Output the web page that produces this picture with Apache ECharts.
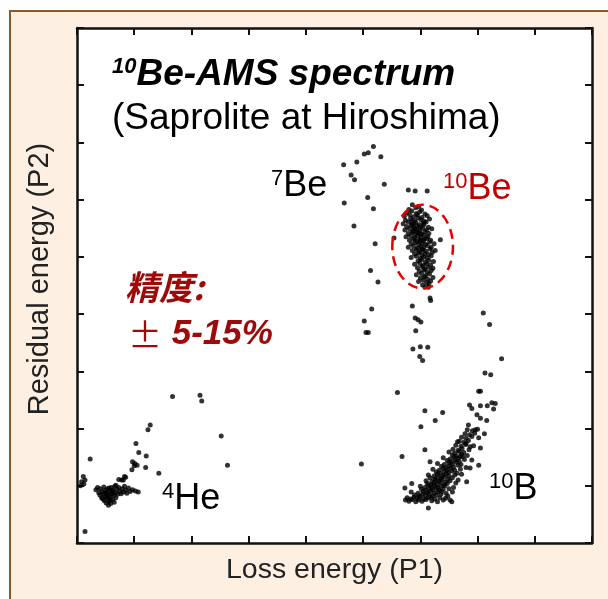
<!DOCTYPE html>
<html>
<head>
<meta charset="utf-8">
<script src="https://cdn.jsdelivr.net/npm/echarts@6/dist/echarts.min.js"></script>
<style>
html, body { margin: 0; padding: 0; background: #fff; }
#chart { width: 608px; height: 599px; }
</style>
</head>
<body>
<div id="chart"></div>
<script>
// axis range (no tick labels in the picture, only ticks)
const axisMin = 0
const axisMax = 9
const tickStep = 1

// 4He group (lower left)
const he4Points = [
  [0.33, 0.93], [0.36, 0.97], [0.38, 0.88], [0.40, 0.84], [0.41, 0.95], [0.43, 0.79], [0.44, 0.90],
  [0.46, 0.86], [0.47, 0.98], [0.48, 0.74], [0.49, 0.82], [0.50, 0.92], [0.51, 0.70], [0.52, 0.87],
  [0.53, 0.78], [0.54, 0.95], [0.55, 0.66], [0.55, 0.83], [0.56, 0.73], [0.57, 0.90], [0.58, 0.80],
  [0.59, 0.69], [0.60, 0.97], [0.60, 0.86], [0.62, 0.76], [0.63, 0.92], [0.64, 0.83], [0.65, 0.71],
  [0.66, 0.99], [0.67, 0.88], [0.68, 0.79], [0.70, 0.94], [0.71, 0.85], [0.45, 0.77], [0.52, 0.81],
  [0.58, 0.75], [0.61, 0.91], [0.50, 0.88], [0.56, 0.96], [0.63, 0.87],
  [0.73, 0.97], [0.75, 0.90], [0.77, 0.86], [0.79, 0.95], [0.81, 0.89], [0.83, 0.99], [0.85, 0.92],
  [0.87, 0.87], [0.90, 0.96], [0.93, 0.90], [0.97, 0.93], [1.02, 0.91], [1.07, 0.89],
  [0.68, 1.01], [0.81, 1.10], [0.85, 1.15], [0.73, 1.11], [0.78, 1.10], [0.83, 1.16],
  [0.96, 1.28], [1.00, 1.35], [1.05, 1.36], [1.01, 1.39], [0.97, 1.42], [1.20, 1.32],
  [1.08, 1.58], [1.21, 1.52], [1.03, 1.74], [1.24, 1.98], [1.28, 2.06],
  [0.11, 1.16], [0.14, 1.10], [0.08, 1.07], [0.12, 1.03], [0.06, 1.00], [0.23, 1.47], [0.14, 0.20]
]

// 7Be arc and the stream under it
const be7Points = [
  [5.18, 6.93], [5.02, 6.80], [5.09, 6.82], [5.31, 6.75], [4.66, 6.61], [4.89, 6.66],
  [4.79, 6.43], [4.85, 6.35], [5.37, 6.27], [4.67, 5.94], [5.08, 6.04], [5.18, 5.84],
  [4.84, 5.54], [5.21, 5.23], [5.13, 4.76], [5.26, 4.56], [5.15, 4.09], [5.02, 3.88],
  [5.05, 3.68], [5.09, 3.68]
]

// 10Be cluster (inside the dashed ellipse) and its tails
const be10Points = [
  [5.86, 5.91], [5.97, 5.88],
  [5.80, 5.83], [5.92, 5.86], [6.02, 5.82],
  [5.76, 5.77], [5.85, 5.80], [5.93, 5.76], [5.99, 5.79], [6.08, 5.75],
  [5.72, 5.71], [5.81, 5.74], [5.88, 5.70], [5.95, 5.73], [6.03, 5.69], [6.12, 5.72],
  [5.74, 5.64], [5.83, 5.67], [5.90, 5.63], [5.96, 5.68], [6.01, 5.65], [6.07, 5.62], [6.16, 5.66],
  [5.70, 5.58], [5.79, 5.61], [5.86, 5.57], [5.92, 5.60], [5.98, 5.56], [6.05, 5.59], [6.10, 5.61],
  [5.76, 5.53], [5.84, 5.55], [5.89, 5.51], [5.95, 5.54], [6.00, 5.52], [6.06, 5.56], [6.14, 5.52],
  [5.73, 5.47], [5.81, 5.49], [5.87, 5.45], [5.93, 5.48], [5.99, 5.46], [6.04, 5.50], [6.11, 5.47], [6.20, 5.49],
  [5.79, 5.41], [5.86, 5.43], [5.91, 5.39], [5.97, 5.42], [6.02, 5.40], [6.08, 5.44], [6.15, 5.41],
  [5.75, 5.35], [5.83, 5.37], [5.90, 5.33], [5.95, 5.36], [6.01, 5.34], [6.07, 5.38], [6.13, 5.35],
  [5.81, 5.29], [5.88, 5.31], [5.94, 5.27], [5.99, 5.30], [6.05, 5.28], [6.11, 5.32], [6.18, 5.29],
  [5.84, 5.23], [5.91, 5.25], [5.97, 5.21], [6.03, 5.24], [6.09, 5.22], [6.16, 5.26], [6.24, 5.23],
  [5.79, 5.17], [5.88, 5.19], [5.95, 5.15], [6.01, 5.18], [6.06, 5.16], [6.12, 5.20], [6.19, 5.17],
  [5.86, 5.11], [5.93, 5.13], [5.99, 5.09], [6.04, 5.12], [6.10, 5.10], [6.17, 5.14], [6.26, 5.11],
  [5.90, 5.05], [5.97, 5.07], [6.03, 5.03], [6.08, 5.06], [6.14, 5.04], [6.21, 5.08],
  [5.84, 4.99], [5.93, 5.01], [6.00, 4.97], [6.06, 5.00], [6.12, 4.98], [6.19, 5.02],
  [5.96, 4.93], [6.02, 4.95], [6.09, 4.91], [6.15, 4.94], [6.23, 4.92],
  [5.90, 4.87], [5.99, 4.89], [6.05, 4.85], [6.11, 4.88], [6.18, 4.86],
  [5.95, 4.81], [6.03, 4.83], [6.08, 4.79], [6.14, 4.82], [6.22, 4.80],
  [5.98, 4.75], [6.06, 4.77], [6.12, 4.73], [6.19, 4.76],
  [5.93, 4.69], [6.02, 4.71], [6.09, 4.67], [6.16, 4.70],
  [6.00, 4.63], [6.07, 4.65], [6.13, 4.61], [6.22, 4.64],
  [5.97, 4.57], [6.05, 4.59], [6.11, 4.55], [6.18, 4.58],
  [6.04, 4.51], [6.15, 4.53], [6.08, 4.47],
  [5.88, 5.58], [5.94, 5.44], [5.99, 5.27], [6.03, 5.14], [5.90, 5.50], [6.07, 5.31], [5.85, 5.62], [6.00, 5.40],
  [5.54, 5.33], [6.35, 5.30], [5.79, 6.17], [5.91, 6.15], [6.12, 6.15],
  [6.14, 4.47], [6.17, 4.28], [6.18, 4.24], [5.86, 4.14], [5.91, 3.93], [5.96, 3.90],
  [6.01, 3.86], [5.92, 3.71], [5.87, 3.39], [6.00, 3.43], [6.13, 3.42], [5.99, 3.26], [6.04, 3.19]
]

// 10B band (lower right) and its upper arm
const b10Points = [
  [5.74, 0.75], [5.80, 0.73], [5.86, 0.76], [5.92, 0.72], [5.97, 0.75], [6.03, 0.73], [6.10, 0.76], [6.20, 0.74], [6.30, 0.72], [6.40, 0.75],
  [5.77, 0.79], [5.83, 0.77], [5.89, 0.80], [5.95, 0.78], [6.00, 0.81], [6.06, 0.77], [6.13, 0.79], [6.18, 0.80], [6.25, 0.77], [6.34, 0.79], [6.44, 0.78],
  [5.90, 0.84], [5.98, 0.82], [6.04, 0.85], [6.09, 0.83], [6.15, 0.86], [6.21, 0.82], [6.28, 0.84], [6.36, 0.85], [6.48, 0.82],
  [5.84, 0.89], [5.96, 0.87], [6.05, 0.90], [6.12, 0.88], [6.18, 0.91], [6.24, 0.87], [6.30, 0.89], [6.37, 0.90], [6.45, 0.87], [6.56, 0.89],
  [6.02, 0.94], [6.10, 0.92], [6.16, 0.95], [6.22, 0.93], [6.27, 0.96], [6.33, 0.92], [6.40, 0.94], [6.50, 0.95],
  [6.00, 0.99], [6.08, 0.97], [6.14, 1.00], [6.20, 0.98], [6.25, 1.01], [6.31, 0.97], [6.36, 0.99], [6.43, 1.00], [6.58, 0.97],
  [6.12, 1.04], [6.18, 1.02], [6.24, 1.05], [6.29, 1.03], [6.35, 1.06], [6.41, 1.02], [6.47, 1.04], [6.62, 1.05],
  [6.10, 1.09], [6.20, 1.07], [6.27, 1.10], [6.33, 1.08], [6.38, 1.11], [6.44, 1.07], [6.52, 1.09], [6.66, 1.10],
  [6.17, 1.14], [6.25, 1.12], [6.31, 1.15], [6.36, 1.13], [6.42, 1.16], [6.48, 1.12], [6.56, 1.14],
  [6.14, 1.19], [6.24, 1.17], [6.30, 1.20], [6.39, 1.18], [6.45, 1.21], [6.50, 1.17], [6.60, 1.19], [6.72, 1.20],
  [6.28, 1.24], [6.35, 1.22], [6.42, 1.25], [6.49, 1.23], [6.55, 1.26], [6.64, 1.22],
  [6.22, 1.29], [6.33, 1.27], [6.40, 1.30], [6.47, 1.28], [6.53, 1.31], [6.60, 1.27], [6.70, 1.29],
  [6.37, 1.34], [6.45, 1.32], [6.51, 1.35], [6.58, 1.33], [6.66, 1.36], [6.80, 1.32],
  [6.30, 1.39], [6.42, 1.37], [6.50, 1.40], [6.56, 1.38], [6.63, 1.41], [6.71, 1.37],
  [6.47, 1.44], [6.54, 1.42], [6.61, 1.45], [6.68, 1.43], [6.77, 1.46],
  [6.40, 1.49], [6.52, 1.47], [6.59, 1.50], [6.66, 1.48], [6.74, 1.51],
  [6.56, 1.54], [6.63, 1.52], [6.72, 1.55], [6.82, 1.53],
  [6.50, 1.59], [6.60, 1.57], [6.68, 1.60], [6.76, 1.58],
  [6.57, 1.64], [6.66, 1.62], [6.73, 1.65], [6.85, 1.63],
  [6.62, 1.71], [6.71, 1.69], [6.79, 1.72], [6.93, 1.70],
  [6.68, 1.78], [6.76, 1.76], [6.84, 1.79],
  [6.72, 1.85], [6.80, 1.83], [6.90, 1.86], [7.02, 1.84],
  [6.78, 1.91], [6.86, 1.89], [6.95, 1.92],
  [6.82, 1.98], [6.91, 1.96], [7.00, 1.99],
  [6.84, 2.06], [6.96, 1.98], [7.12, 1.91], [6.99, 2.24], [7.05, 2.18], [7.16, 2.14],
  [6.86, 2.41], [6.90, 2.35], [7.05, 2.40], [7.17, 2.40], [7.25, 2.45], [7.31, 2.44], [7.28, 2.34],
  [6.65, 1.77], [6.80, 1.74], [6.87, 1.68], [7.05, 1.66], [6.70, 1.51], [6.90, 1.45],
  [6.87, 1.31], [7.02, 1.36], [6.81, 1.07], [6.52, 0.75], [6.55, 0.72], [6.14, 0.61],
  [5.73, 0.96], [5.85, 1.04], [6.08, 1.63], [6.17, 1.42], [6.08, 2.31], [6.39, 2.28],
  [6.26, 2.14], [6.01, 2.03], [7.05, 2.65], [7.02, 2.65], [7.10, 4.02], [7.21, 3.82],
  [7.42, 3.22], [7.13, 2.97], [7.23, 2.94]
]

// scattered events
const strayPoints = [
  [1.67, 2.56], [2.15, 2.58], [2.18, 2.48], [2.52, 1.87], [2.63, 1.36], [1.43, 1.22],
  [4.97, 1.38], [5.68, 1.51], [5.60, 2.63]
]

// dashed ellipse round the 10Be peak (data units)
const ellipseCenter = [6.04, 5.18]
const ellipseRadius = [0.53, 0.73]

const sansFont = 'Liberation Sans, Arial, sans-serif'
const cjkFont = 'Noto Sans CJK SC, sans-serif'
const dotColor = '#000'
const frameColor = '#111'

function dots(name, data) {
  return {
    name: name,
    type: 'scatter',
    data: data,
    symbolSize: 5,
    itemStyle: { color: dotColor },
    silent: true
  }
}

function frameAxis(pos, withName) {
  const axis = {
    type: 'value',
    position: pos,
    min: axisMin,
    max: axisMax,
    interval: tickStep,
    splitLine: { show: false },
    axisLabel: { show: false },
    axisLine: { show: true, onZero: false, lineStyle: { color: frameColor, width: 2.5 } },
    axisTick: { show: true, inside: true, length: 7, lineStyle: { color: frameColor, width: 2 } }
  }
  if (withName) {
    axis.name = 'Loss energy (P1)'
    axis.nameLocation = 'middle'
    axis.nameGap = 13
    axis.nameTextStyle = { fontSize: 28.5, color: '#222', fontFamily: sansFont }
  }
  return axis
}

// superscript + main text as one rich text
function isotope(x, y, sup, main, color) {
  return {
    type: 'text',
    x: x,
    y: y,
    z: 100,
    style: {
      text: '{s|' + sup + '}{m|' + main + '}',
      align: 'left',
      verticalAlign: 'top',
      rich: {
        s: { fontSize: 22, fontFamily: sansFont, fill: color, verticalAlign: 'top' },
        m: { fontSize: 36, fontFamily: sansFont, fill: color, verticalAlign: 'bottom' }
      }
    }
  }
}

const chart = echarts.init(document.getElementById('chart'))

const option = {
  animation: false,
  backgroundColor: '#fff',
  grid: {
    left: 77,
    top: 28,
    width: 515,
    height: 515,
    show: true,
    backgroundColor: '#fff',
    borderWidth: 0
  },
  xAxis: [frameAxis('bottom', true), frameAxis('top', false)],
  yAxis: [frameAxis('left', false), frameAxis('right', false)],
  series: [
    dots('4He', he4Points),
    dots('7Be', be7Points),
    dots('10Be', be10Points),
    dots('10B', b10Points),
    dots('other', strayPoints)
  ]
}
chart.setOption(option)

// annotations placed after the axes exist
const c = chart.convertToPixel({ gridIndex: 0 }, ellipseCenter)
const e = chart.convertToPixel({ gridIndex: 0 }, [ellipseCenter[0] + ellipseRadius[0], ellipseCenter[1] + ellipseRadius[1]])

chart.setOption({
  graphic: [
    {
      // beige panel behind the chart
      type: 'rect',
      z: -10,
      shape: { x: 10, y: 11, width: 640, height: 640 },
      style: { fill: '#fdf0e3', stroke: '#8a5a2b', lineWidth: 2 }
    },
    {
      type: 'ellipse',
      z: 90,
      shape: { cx: c[0], cy: c[1], rx: e[0] - c[0], ry: c[1] - e[1] },
      style: { fill: 'none', stroke: '#e60000', lineWidth: 2.5, lineDash: [10, 6] }
    },
    {
      // y axis title
      type: 'text',
      x: 40,
      y: 279,
      rotation: Math.PI / 2,
      z: 100,
      style: { text: 'Residual energy (P2)', font: '29px ' + sansFont, fill: '#222', align: 'center', verticalAlign: 'middle' }
    },
    {
      type: 'text',
      x: 112,
      y: 56,
      z: 100,
      style: {
        text: '{s|10}{m|Be-AMS spectrum}',
        align: 'left',
        verticalAlign: 'top',
        rich: {
          s: { fontSize: 22, fontWeight: 'bold', fontStyle: 'italic', fontFamily: sansFont, fill: '#000', verticalAlign: 'top' },
          m: { fontSize: 37, fontWeight: 'bold', fontStyle: 'italic', fontFamily: sansFont, fill: '#000', verticalAlign: 'bottom' }
        }
      }
    },
    {
      type: 'text',
      x: 112,
      y: 100,
      z: 100,
      style: { text: '(Saprolite at Hiroshima)', font: '37px ' + sansFont, fill: '#000', align: 'left', verticalAlign: 'top' }
    },
    isotope(271, 168, '7', 'Be', '#000'),
    isotope(443, 171, '10', 'Be', '#c00000'),
    isotope(162, 481, '4', 'He', '#000'),
    isotope(489, 471, '10', 'B', '#000'),
    {
      type: 'text',
      x: 125,
      y: 287,
      z: 100,
      style: {
        text: '精度:',
        font: 'italic bold 34px ' + cjkFont,
        fill: '#9c0a0a',
        align: 'left',
        verticalAlign: 'middle'
      }
    },
    {
      type: 'text',
      x: 128,
      y: 317,
      z: 100,
      style: {
        text: '{p|±}{n| 5-15%}',
        align: 'left',
        verticalAlign: 'top',
        rich: {
          p: { fontSize: 34, fontFamily: cjkFont, fill: '#9c0a0a', verticalAlign: 'bottom' },
          n: { fontSize: 35, fontWeight: 'bold', fontStyle: 'italic', fontFamily: sansFont, fill: '#9c0a0a', verticalAlign: 'bottom' }
        }
      }
    }
  ]
})
</script>
</body>
</html>
